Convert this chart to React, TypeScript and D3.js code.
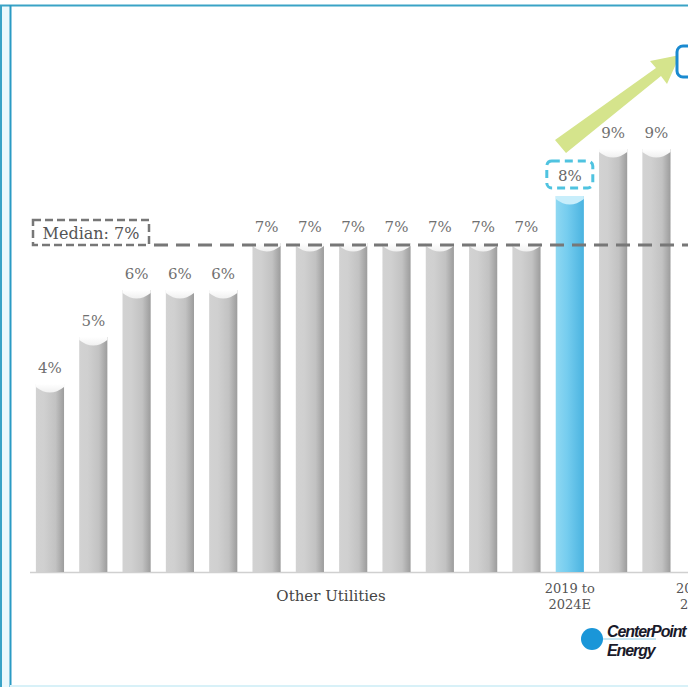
import React from "react";
import * as d3 from "d3";

const categories = ["u1","u2","u3","u4","u5","u6","u7","u8","u9","u10","u11","u12","cnp","u13","u14"];
const values = [4,5,6,6,6,7,7,7,7,7,7,7,8,9,9];
const highlight = [false,false,false,false,false,false,false,false,false,false,false,false,true,false,false];
const valueLabels = ["4%","5%","6%","6%","6%","7%","7%","7%","7%","7%","7%","7%","8%","9%","9%"];
const medianValue = 7;
const medianLabel = "Median: 7%";

const W = 688, H = 687;

export default function App() {
  const x = d3.scaleBand<string>().domain(categories).range([28.3, 28.3 + 43.32 * 15]).paddingInner(0.35).paddingOuter(0.175);
  const y = d3.scaleLinear().domain([0, 9]).range([572, 149]);
  const bw = x.bandwidth();
  const serif = "'DejaVu Serif', 'Liberation Serif', serif";
  const my = y(medianValue) + 2;
  const cnpX = (x("cnp") as number) + bw / 2;
  return (
    <svg width={W} height={H} style={{ position: "absolute", left: 0, top: 0 }} xmlns="http://www.w3.org/2000/svg">
      <defs>
        <linearGradient id="gGray" x1="0" x2="1" y1="0" y2="0">
          <stop offset="0" stopColor="#d2d2d2" />
          <stop offset="0.3" stopColor="#d0d0d0" />
          <stop offset="0.7" stopColor="#c2c2c2" />
          <stop offset="1" stopColor="#9c9c9c" />
        </linearGradient>
        <linearGradient id="gBlue" x1="0" x2="1" y1="0" y2="0">
          <stop offset="0" stopColor="#8fd8f2" />
          <stop offset="0.4" stopColor="#76cdef" />
          <stop offset="1" stopColor="#4ab3e0" />
        </linearGradient>
        <linearGradient id="gCap" x1="0" x2="0" y1="0" y2="1">
          <stop offset="0" stopColor="#ffffff" />
          <stop offset="1" stopColor="#f0f0f0" />
        </linearGradient>
        <clipPath id="clip"><rect x={0} y={0} width={W} height={H} /></clipPath>
      </defs>
      <rect x={0} y={0} width={W} height={H} fill="#ffffff" />
      {/* frame */}
      <rect x={0} y={5} width={11} height={H - 5} fill="#eaf8fc" />
      <line x1={0} x2={W} y1={5.5} y2={5.5} stroke="#3aa3c6" strokeWidth={2} />
      <line x1={1} x2={1} y1={5} y2={H} stroke="#3aa3c6" strokeWidth={2} />
      <line x1={10.5} x2={10.5} y1={5} y2={H} stroke="#2a9ac4" strokeWidth={2} />
      <line x1={10} x2={W} y1={686} y2={686} stroke="#d8f1f8" strokeWidth={2} />

      {/* baseline */}
      <line x1={30} x2={W} y1={572.5} y2={572.5} stroke="#d0d0d0" strokeWidth={1.5} />

      {/* bars */}
      {categories.map((c, i) => {
        const bx = x(c) as number;
        const top = y(values[i]);
        const hl = highlight[i];
        return (
          <g key={c}>
            <rect x={bx} y={top} width={bw} height={572 - top} fill={hl ? "url(#gBlue)" : "url(#gGray)"} />
            <path d={`M${bx},${top} L${bx + bw},${top} L${bx + bw},${top + 3} Q${bx + bw / 2},${top + 14} ${bx},${top + 3} Z`} fill={hl ? "#c8eefb" : "url(#gCap)"} />
            <text x={bx + bw / 2} y={top - 11} textAnchor="middle" fontFamily={serif} fontSize={15} fill="#707070">
              {hl ? "" : valueLabels[i]}
            </text>
          </g>
        );
      })}

      {/* median line */}
      <line x1={154} x2={W} y1={my} y2={my} stroke="#777" strokeWidth={3} strokeDasharray="14 8" />
      <rect x={33} y={220} width={116} height={25} fill="#fff" stroke="#777" strokeWidth={2.5} strokeDasharray="8 4" />
      <text x={91} y={239} textAnchor="middle" fontFamily={serif} fontSize={16} fill="#555">{medianLabel}</text>

      {/* highlighted label box */}
      <rect x={cnpX - 23} y={161} width={46} height={27} rx={5} fill="#fff" stroke="#4fc3e0" strokeWidth={3} strokeDasharray="8 5" />
      <text x={cnpX} y={181} textAnchor="middle" fontFamily={serif} fontSize={15} fill="#666">{valueLabels[12]}</text>

      {/* growth arrow */}
      <polygon points="555,140 566,153 661,76 667,84 680,55 650,61 656,68" fill="#d5e48c" />
      <rect x={677} y={46} width={30} height={31} rx={6} fill="#fff" stroke="#1a8ad0" strokeWidth={3} />

      {/* x labels */}
      <text x={331} y={601} textAnchor="middle" fontFamily={serif} fontSize={15} fill="#444">Other Utilities</text>
      <text x={cnpX} y={593} textAnchor="middle" fontFamily={serif} fontSize={13} fill="#555">2019 to</text>
      <text x={cnpX} y={609} textAnchor="middle" fontFamily={serif} fontSize={13} fill="#555">2024E</text>
      <g clipPath="url(#clip)">
        <text x={676} y={593} fontFamily={serif} fontSize={13} fill="#555">2020 to</text>
        <text x={680} y={609} fontFamily={serif} fontSize={13} fill="#555">2025E</text>
      </g>

      {/* logo */}
      <line x1={592} x2={656} y1={639} y2={639} stroke="#8fcfe8" strokeWidth={1} />
      <circle cx={592} cy={639} r={11} fill="#1a96d8" />
      <text x={607} y={637} fontFamily="'Liberation Sans', Arial, sans-serif" fontWeight="bold" fontStyle="italic" fontSize={16} fill="#1a1a2a" letterSpacing={-1.1}>CenterPoint</text>
      <text x={607} y={656} fontFamily="'Liberation Sans', Arial, sans-serif" fontWeight="bold" fontStyle="italic" fontSize={16} fill="#1a1a2a" letterSpacing={-1.1}>Energy</text>
    </svg>
  );
}
